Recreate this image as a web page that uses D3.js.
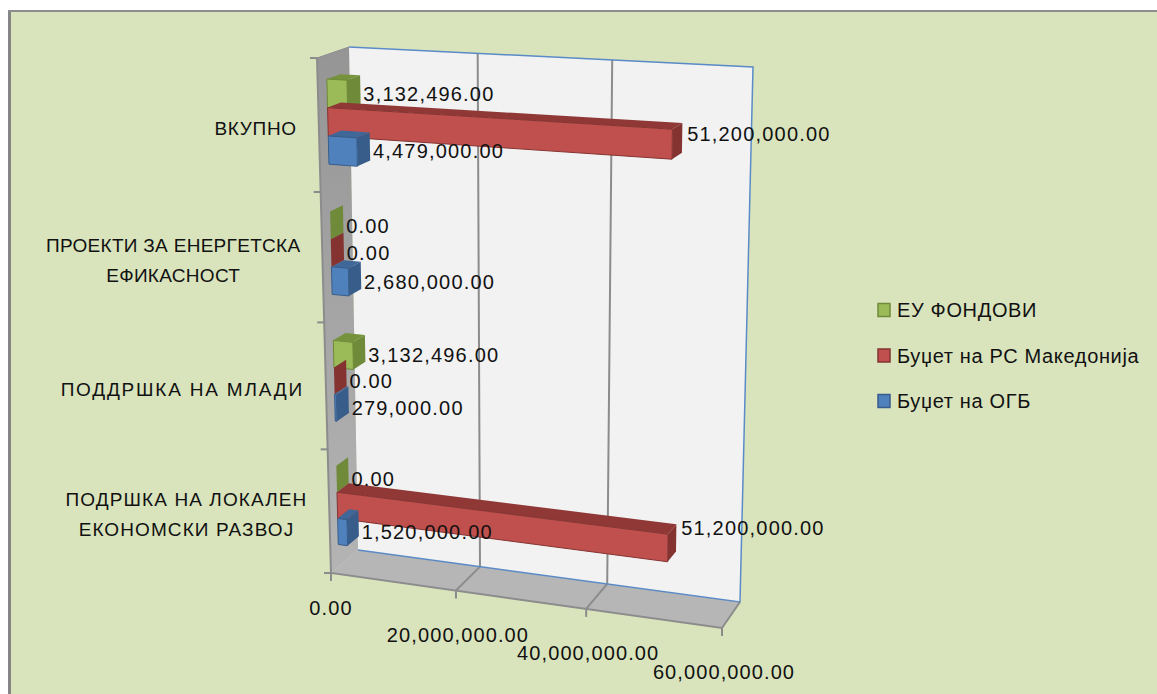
<!DOCTYPE html>
<html>
<head>
<meta charset="utf-8">
<script src="https://cdn.jsdelivr.net/npm/d3@7"></script>
<style>
html, body { margin: 0; padding: 0; background: #fff; }
svg { display: block; }
text { font-family: "Liberation Sans", sans-serif; fill: #111; }
</style>
</head>
<body>
<svg id="chart" width="1157" height="694"></svg>
<script>
const categories = ['ПОДРШКА НА ЛОКАЛЕН ЕКОНОМСКИ РАЗВОЈ', 'ПОДДРШКА НА МЛАДИ', 'ПРОЕКТИ ЗА ЕНЕРГЕТСКА ЕФИКАСНОСТ', 'ВКУПНО']
const categoryLines = [['ПОДРШКА НА ЛОКАЛЕН', 'ЕКОНОМСКИ РАЗВОЈ'], ['ПОДДРШКА НА МЛАДИ'], ['ПРОЕКТИ ЗА ЕНЕРГЕТСКА', 'ЕФИКАСНОСТ'], ['ВКУПНО']]
const seriesNames = ['Буџет на ОГБ', 'Буџет на РС Македонија', 'ЕУ ФОНДОВИ']
const ogb = [1520000, 279000, 2680000, 4479000]
const rsm = [51200000, 0, 0, 51200000]
const eu = [0, 3132496, 0, 3132496]
const xTicks = [0, 20000000, 40000000, 60000000]

const seriesValues = [ogb, rsm, eu]
const colors = [
	{ front: '#4f81bd', dark: '#385d8a', top: '#3f6797' },
	{ front: '#c0504d', dark: '#843331', top: '#8f3836' },
	{ front: '#9bbb59', dark: '#6f8a38', top: '#76923c' }
]
// the lower labels are set wider than the upper ones
const categorySpacing = [1.1, 1.8, 0.3, 0.7]

const svg = d3.select('#chart')
const fmt = d3.format(',.2f')

// corners of the box, back wall and front edge: [top left, top right, bottom right, bottom left]
const backQuad = [[349, 47], [753, 67], [740, 602], [358, 550]]
const frontQuad = [[317, 58], [730, 81], [722, 628], [331, 573]]
const barFront = 0.71
const barBack = 0.29

const xScale = d3.scaleLinear().domain([0, 60000000]).range([0, 1])
const yBand = d3.scaleBand().domain(d3.range(categories.length)).range([1, 0]).paddingInner(0.36).paddingOuter(0.18)
const yInner = d3.scaleBand().domain(d3.range(seriesNames.length)).range([yBand.bandwidth(), 0])

// unit square to quad
function homography(q) {
	const [[x0, y0], [x1, y1], [x2, y2], [x3, y3]] = q
	const dx1 = x1 - x2, dx2 = x3 - x2, sx = x0 - x1 + x2 - x3
	const dy1 = y1 - y2, dy2 = y3 - y2, sy = y0 - y1 + y2 - y3
	const den = dx1 * dy2 - dx2 * dy1
	const g = (sx * dy2 - dx2 * sy) / den
	const h = (dx1 * sy - sx * dy1) / den
	return (u, v) => {
		const w = g * u + h * v + 1
		return [
			((x1 - x0 + g * x1) * u + (x3 - x0 + h * x3) * v + x0) / w,
			((y1 - y0 + g * y1) * u + (y3 - y0 + h * y3) * v + y0) / w
		]
	}
}

// depth: 0 is the back wall, 1 is the front edge
function project(u, v, depth) {
	const q = backQuad.map((p, i) => [
		p[0] + (frontQuad[i][0] - p[0]) * depth,
		p[1] + (frontQuad[i][1] - p[1]) * depth
	])
	return homography(q)(u, v)
}

const poly = pts => pts.map(p => p.join(',')).join(' ')

// background and frame
svg.append('rect').attr('x', 8).attr('y', 10).attr('width', 1149).attr('height', 684).attr('fill', '#d9e4bd')
svg.append('rect').attr('x', 8).attr('y', 10).attr('width', 3).attr('height', 684).attr('fill', '#868686')
svg.append('rect').attr('x', 8).attr('y', 10).attr('width', 1149).attr('height', 2).attr('fill', '#8c8c8c')

const defs = svg.append('defs')
const wallGrad = defs.append('linearGradient').attr('id', 'wall').attr('x1', 0).attr('x2', 0).attr('y1', 0).attr('y2', 1)
wallGrad.append('stop').attr('offset', 0).attr('stop-color', '#959595')
wallGrad.append('stop').attr('offset', 1).attr('stop-color', '#b4b4b4')

// walls and floor
svg.append('polygon').attr('points', poly(backQuad)).attr('fill', '#f2f2f2')
svg.append('polygon').attr('points', poly([backQuad[0], frontQuad[0], frontQuad[3], backQuad[3]])).attr('fill', 'url(#wall)')
svg.append('polygon').attr('points', poly([backQuad[3], backQuad[2], frontQuad[2], frontQuad[3]])).attr('fill', '#b6b6b6')

// grid lines on back wall and floor
xTicks.slice(1, -1).forEach(t => {
	const u = xScale(t)
	const pts = [project(u, 0, 0), project(u, 1, 0), project(u, 1, 1)]
	svg.append('polyline').attr('points', poly(pts)).attr('fill', 'none').attr('stroke', '#8c8c8c').attr('stroke-width', 2)
})

// blue outline of back wall
svg.append('polyline').attr('points', poly([backQuad[3], backQuad[2], backQuad[1], backQuad[0]]))
	.attr('fill', 'none').attr('stroke', '#5b8bc6').attr('stroke-width', 1.5)

// axis lines and ticks
svg.append('polyline').attr('points', poly([frontQuad[0], frontQuad[3], frontQuad[2], backQuad[2]]))
	.attr('fill', 'none').attr('stroke', '#8c8c8c').attr('stroke-width', 2)
svg.append('line').attr('x1', frontQuad[0][0]).attr('y1', frontQuad[0][1]).attr('x2', backQuad[0][0]).attr('y2', backQuad[0][1])
	.attr('stroke', '#8c8c8c').attr('stroke-width', 1)

d3.range(categories.length + 1).forEach(i => {
	const p = project(0, i / categories.length, 1)
	svg.append('line').attr('x1', p[0] - 7).attr('y1', p[1]).attr('x2', p[0]).attr('y2', p[1])
		.attr('stroke', '#8c8c8c').attr('stroke-width', 2)
})

xTicks.forEach((t, i) => {
	const p = project(xScale(t), 1, 1)
	svg.append('line').attr('x1', p[0]).attr('y1', p[1]).attr('x2', p[0]).attr('y2', p[1] + 8)
		.attr('stroke', '#8c8c8c').attr('stroke-width', 2)
	svg.append('text').attr('x', p[0] + (i ? 2 : 0)).attr('y', p[1] + (i ? 51 : 42))
		.attr('text-anchor', 'middle').attr('font-size', 20).attr('letter-spacing', 1.1)
		.text(fmt(t))
})

// bars, drawn from top of the chart to bottom so lower ones overlap
const labels = []
d3.range(categories.length).reverse().forEach(c => {
	d3.range(seriesNames.length).reverse().forEach(s => {
		const value = seriesValues[s][c]
		const u = xScale(value)
		const vTop = yBand(c) + yInner(s)
		const vBot = vTop + yInner.bandwidth()
		const vMid = (vTop + vBot) / 2
		const col = colors[s]

		const g = svg.append('g')
		g.append('polygon').attr('fill', col.top)
			.attr('points', poly([project(0, vTop, barFront), project(u, vTop, barFront), project(u, vTop, barBack), project(0, vTop, barBack)]))
		g.append('polygon').attr('fill', col.dark)
			.attr('points', poly([project(u, vTop, barFront), project(u, vBot, barFront), project(u, vBot, barBack), project(u, vTop, barBack)]))
		if (value > 0) {
			g.append('polygon').attr('fill', col.front).attr('stroke', col.dark).attr('stroke-width', 1)
				.attr('points', poly([project(0, vTop, barFront), project(u, vTop, barFront), project(u, vBot, barFront), project(0, vBot, barFront)]))
		}

		// labels ride above the bar's slope, so long bars get theirs placed higher
		const end = project(u, vMid, barBack)
		labels.push({ x: end[0] + (value > 40000000 ? 5 : 3), y: project(u * 0.55, vMid, barFront)[1], text: fmt(value) })
	})
})

// value labels
svg.append('g').selectAll('text').data(labels).enter().append('text')
	.attr('x', d => d.x)
	.attr('y', d => d.y)
	.attr('dy', '0.36em')
	.attr('font-size', 20)
	.attr('letter-spacing', 1.2)
	.text(d => d.text)

// category labels, each block right aligned against the axis, lines centred
categoryLines.forEach((lines, c) => {
	const p = project(0, yBand(c) + yBand.bandwidth() / 2, 1)
	const g = svg.append('g')
	const texts = lines.map((line, i) => g.append('text')
		.attr('y', p[1] + 3 + (i - (lines.length - 1) / 2) * 30)
		.attr('dy', '0.36em')
		.attr('text-anchor', 'middle')
		.attr('font-size', 19)
		.attr('letter-spacing', categorySpacing[c])
		.text(line))
	const widest = d3.max(texts, t => t.node().getComputedTextLength())
	texts.forEach(t => t.attr('x', p[0] - 22 - widest / 2))
})

// legend
const legendY = d3.scalePoint().domain(d3.range(seriesNames.length).reverse()).range([310, 401])
d3.range(seriesNames.length).forEach(s => {
	const y = legendY(s)
	svg.append('rect').attr('x', 878).attr('y', y - 6.5).attr('width', 12).attr('height', 13)
		.attr('fill', colors[s].front).attr('stroke', colors[s].dark).attr('stroke-width', 1.5)
	svg.append('text').attr('x', 897).attr('y', y).attr('dy', '0.36em')
		.attr('font-size', 20).attr('letter-spacing', 0.65)
		.text(seriesNames[s])
})
</script>
</body>
</html>
